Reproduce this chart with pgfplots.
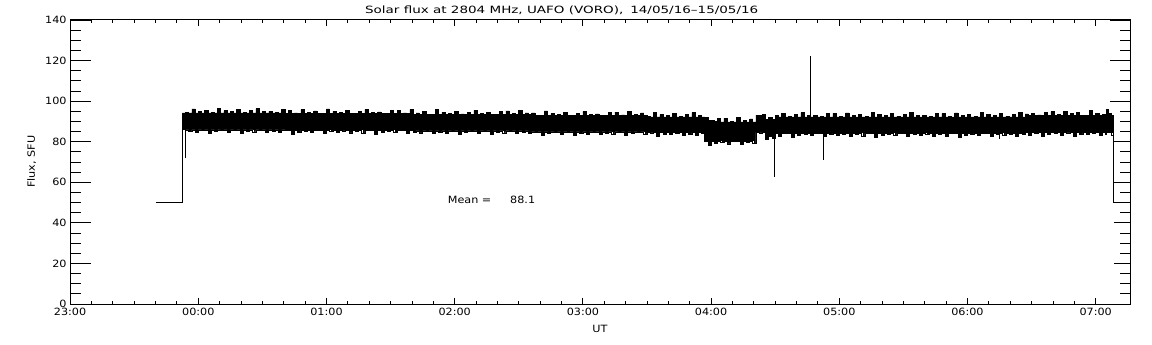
\documentclass[border=0pt]{standalone}
\usepackage{fontspec}
\setmainfont{DejaVu Sans}[FakeStretch=1.12]
\newfontfamily\titlefont{DejaVu Sans}[FakeStretch=1.35]
\usepackage{pgfplots}
\pgfplotsset{compat=1.18}
\usepackage{pgfplotstable}

\pgfplotstableread{
m up lo
52.5 94.2 86.0
54 94.6 85.8
55.5 94.2 85.1
57 96.2 85.8
58.5 94.2 84.4
60 95.0 85.8
61.5 94.2 85.6
63 95.6 85.8
64.5 94.2 84.0
66 94.3 85.8
67.5 94.2 84.9
69 96.6 85.8
70.5 94.2 85.4
72 95.3 85.8
73.5 94.2 84.6
75 94.8 85.8
76.5 94.2 85.7
78 95.9 85.8
79.5 94.2 84.2
81 94.5 85.8
82.5 94.2 85.2
84 95.4 85.8
85.5 94.2 84.8
87 96.3 85.8
88.5 94.2 85.5
90 94.9 85.8
91.5 94.2 84.5
93 95.1 85.8
94.5 94.2 85.1
96 94.4 85.8
97.5 94.2 84.4
99 95.8 85.8
100.5 93.8 85.4
102 95.6 85.6
103.5 93.8 83.8
105 94.2 85.6
106.5 93.8 84.7
108 95.8 85.6
109.5 93.8 85.2
111 94.6 85.6
112.5 93.8 84.4
114 95.2 85.6
115.5 93.8 85.5
117 93.9 85.6
118.5 93.8 84.0
120 96.2 85.6
121.5 93.8 85.0
123 94.9 85.6
124.5 93.8 84.6
126 94.4 85.6
127.5 93.8 85.3
129 95.5 85.6
130.5 93.8 84.3
132 94.1 85.6
133.5 93.8 84.9
135 95.0 85.6
136.5 93.8 84.2
138 95.9 85.6
139.5 93.8 85.4
141 94.5 85.6
142.5 93.8 83.8
144 94.7 85.6
145.5 93.8 84.7
147 94.0 85.6
148.5 93.8 85.2
150 95.4 85.6
151.5 93.8 84.4
153 95.6 85.6
154.5 93.8 85.5
156 94.2 85.6
157.5 93.8 84.0
159 95.8 85.6
160.5 93.4 84.7
162 94.2 85.3
163.5 93.4 84.3
165 94.8 85.3
166.5 93.4 85.0
168 93.5 85.3
169.5 93.4 84.0
171 95.8 85.3
172.5 93.4 84.6
174 94.5 85.3
175.5 93.4 83.9
177 94.0 85.3
178.5 93.4 85.1
180 95.1 85.3
181.5 93.4 83.5
183 93.7 85.3
184.5 93.4 84.4
186 94.6 85.3
187.5 93.4 84.9
189 95.5 85.3
190.5 93.4 84.1
192 94.1 85.3
193.5 93.4 85.2
195 94.3 85.3
196.5 93.4 83.7
198 93.6 85.3
199.5 93.4 84.7
201 95.0 85.3
202.5 93.4 84.3
204 95.2 85.3
205.5 93.4 85.0
207 93.8 85.3
208.5 93.4 84.0
210 95.4 85.3
211.5 93.4 84.6
213 94.2 85.3
214.5 93.4 83.9
216 94.2 84.8
217.5 92.8 84.6
219 92.9 84.8
220.5 92.8 83.0
222 95.2 84.8
223.5 92.8 83.9
225 93.9 84.8
226.5 92.8 84.4
228 93.4 84.8
229.5 92.8 83.6
231 94.5 84.8
232.5 92.8 84.7
234 93.1 84.8
235.5 92.8 83.2
237 94.0 84.8
238.5 92.8 84.2
240 94.9 84.8
241.5 92.8 83.8
243 93.5 84.8
244.5 92.8 84.5
246 93.7 84.8
247.5 92.8 83.5
249 93.0 84.8
250.5 92.8 84.1
252 94.4 84.8
253.5 92.8 83.4
255 94.6 84.8
256.5 92.8 84.6
258 93.2 84.8
259.5 92.8 83.0
261 94.8 84.8
262.5 92.8 83.9
264 93.6 84.8
265.5 92.8 84.4
267 94.2 84.8
268.5 92.8 83.6
270 92.3 84.4
271.5 92.2 84.3
273 94.6 84.4
274.5 92.2 82.8
276 93.3 84.4
277.5 92.2 83.8
279 92.8 84.4
280.5 92.2 83.4
282 93.9 84.4
283.5 92.2 84.1
285 92.5 84.4
286.5 92.2 83.1
288 93.4 84.4
289.5 92.2 83.7
291 94.3 84.4
292.5 92.2 83.0
294 92.9 84.4
295.5 92.2 84.2
297 91.9 80.1
298.5 90.6 78.3
300 90.4 80.1
301.5 89.9 79.2
303 91.4 80.1
304.5 89.8 79.7
306 91.6 80.1
307.5 89.8 78.9
309 90.2 80.1
310.5 89.8 80.0
312 91.8 80.1
313.5 89.8 78.5
315 90.6 80.1
316.5 89.8 79.5
318 91.2 80.1
319.5 89.8 79.1
321 93.1 84.6
322.5 93.0 84.3
324 93.6 84.6
325.5 91.0 81.1
327 92.1 82.4
328.5 91.0 81.7
330 92.8 84.1
331.5 92.2 82.7
333 93.9 84.1
334.5 92.2 83.9
336 92.5 84.1
337.5 92.2 82.3
339 93.4 84.1
340.5 92.2 83.2
342 94.3 84.1
343.5 92.2 83.7
345 92.9 84.1
346.5 92.2 82.9
348 93.1 84.1
349.5 92.2 84.0
351 92.4 84.1
352.5 92.2 82.5
354 93.8 84.1
355.5 92.2 83.5
357 94.0 84.1
358.5 92.2 83.1
360 92.6 84.1
361.5 92.2 83.8
363 94.2 84.1
364.5 92.2 82.8
366 93.0 84.1
367.5 92.2 83.4
369 93.6 84.1
370.5 92.2 82.7
372 92.3 84.1
373.5 92.2 83.9
375 94.6 84.1
376.5 92.2 82.3
378 93.3 84.1
379.5 92.2 83.2
381 92.8 84.1
382.5 92.2 83.7
384 93.9 84.1
385.5 92.2 82.9
387 92.5 84.1
388.5 92.2 84.0
390 93.4 84.1
391.5 92.2 82.5
393 94.3 84.1
394.5 92.2 83.5
396 92.9 84.1
397.5 92.2 83.1
399 93.1 84.1
400.5 92.2 83.8
402 92.4 84.1
403.5 92.2 82.8
405 93.8 84.1
406.5 92.2 83.4
408 94.0 84.1
409.5 92.2 82.7
411 92.6 84.1
412.5 92.2 83.9
414 94.2 84.1
415.5 92.2 82.3
417 93.0 84.1
418.5 92.2 83.2
420 93.6 84.1
421.5 92.2 83.7
423 92.3 84.1
424.5 92.2 82.9
426 94.6 84.1
427.5 92.2 84.0
429 93.3 84.1
430.5 92.2 82.5
432 92.8 84.1
433.5 92.2 83.5
435 93.9 84.1
436.5 92.2 83.1
438 92.5 84.1
439.5 92.2 83.8
441 93.4 84.1
442.5 92.2 82.8
444 94.3 84.1
445.5 92.2 83.4
447 93.7 84.4
448.5 93.0 83.0
450 93.9 84.4
451.5 93.0 84.2
453 93.2 84.4
454.5 93.0 82.6
456 94.6 84.4
457.5 93.0 83.5
459 94.8 84.4
460.5 93.0 84.0
462 93.4 84.4
463.5 93.0 83.2
465 95.0 84.4
466.5 93.0 84.3
468 93.8 84.4
469.5 93.0 82.8
471 94.4 84.4
472.5 93.0 83.8
474 93.1 84.4
475.5 93.0 83.4
477 95.4 84.4
478.5 93.0 84.1
480 94.1 84.4
481.5 93.0 83.1
483 93.6 84.4
484.5 93.0 83.7
485.1 95.8 84.4
486 94.0 84.4
487.5 93.0 83.0
488.2 93.0 84.4
}\band

\pgfplotsset{
  common/.style={
    scale only axis, width=1060.6bp, height=284bp,
    xmin=0, xmax=496.4, ymin=0, ymax=140,
    at={(0,0)}, anchor=south west,
    axis line style={line width=1bp},
    every tick/.style={black, line width=0.9bp},
    tick align=inside,
    /pgf/number format/assume math mode=true,
    tick label style={font=\fontsize{10bp}{12bp}\selectfont},
    label style={font=\fontsize{10bp}{12bp}\selectfont},
  }
}

\begin{document}
\begin{tikzpicture}
\begin{axis}[common,
  ytick={0,20,...,140}, minor y tick num=3,
  major tick length=21bp, minor tick length=10.5bp,
  xtick=\empty,
  ylabel={Flux, SFU},
  ylabel style={at={(axis description cs:-0.0362,0.501)}, anchor=center},
]
\addplot[black, const plot, fill=black, line width=0.6bp] table[x=m, y=up] {\band} \closedcycle;
\addplot[white, const plot, fill=white, line width=0.4bp] table[x=m, y=lo] {\band} \closedcycle;
\addplot[black, const plot, line width=0.7bp] table[x=m, y=lo] {\band};
\addplot[black, line width=1bp] coordinates {(40.2,50) (52.5,50) (52.5,88)};
\addplot[black, line width=1bp] coordinates {(54.1,86) (54.1,71.8)};
\addplot[black, line width=1bp] coordinates {(329.6,84) (329.6,62.8)};
\addplot[black, line width=1bp] coordinates {(346.6,92) (346.6,122.3)};
\addplot[black, line width=1bp] coordinates {(352.7,84) (352.7,71.0)};
\addplot[black, line width=1bp] coordinates {(435.2,84) (435.2,81.3)};
\addplot[black, line width=1bp] coordinates {(488.2,86) (488.2,50) (496.4,50)};
\node[anchor=west, inner sep=0pt, font=\fontsize{10bp}{12bp}\selectfont] at (axis cs:176.7,51.3) {Mean =};
\node[anchor=west, inner sep=0pt, font=\fontsize{10bp}{12bp}\selectfont] at (axis cs:205.9,51.3) {88.1};
\end{axis}
\begin{axis}[common,
  ytick=\empty,
  major tick length=5.7bp, minor tick length=2.8bp,
  xtick={0,60,...,480},
  xticklabels={23:00,00:00,01:00,02:00,03:00,04:00,05:00,06:00,07:00},
  minor x tick num=5,
  xticklabel style={yshift=-1bp},
  xlabel={UT},
  xlabel style={at={(axis description cs:0.4996,-0.087)}, anchor=center},
  every axis title shift=0pt,
  title={Solar flux at 2804 MHz, UAFO (VORO),\hspace{0.7em}14/05/16\textendash 15/05/16},
  title style={at={(axis description cs:0.4635,1.0352)}, anchor=center, font=\titlefont\fontsize{10bp}{12bp}\selectfont},
]
\addplot[black, line width=1bp] coordinates {(40.2,50) (52.5,50) (52.5,88)};
\addplot[black, line width=1bp] coordinates {(488.2,86) (488.2,50) (496.4,50)};
\end{axis}
\pgfresetboundingbox
\path[use as bounding box] (-70.1bp,-41bp) rectangle (1081.9bp,304bp);
\end{tikzpicture}
\end{document}
